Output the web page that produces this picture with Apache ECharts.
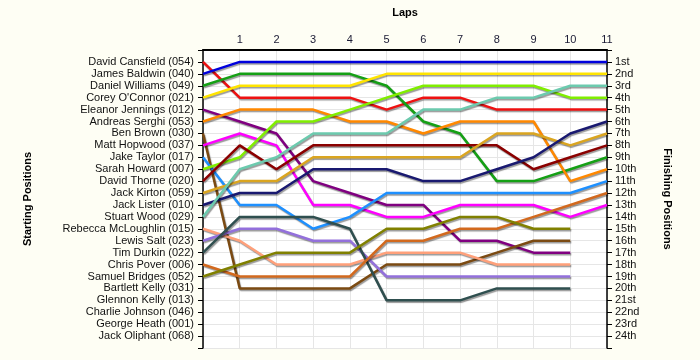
<!DOCTYPE html>
<html>
<head>
<meta charset="utf-8">
<script src="https://cdn.jsdelivr.net/npm/echarts@6/dist/echarts.min.js"></script>
<style>
html,body{margin:0;padding:0;background:#FEFEF4;}
#chart{width:700px;height:360px;}
</style>
</head>
<body>
<div id="chart"></div>
<script>
// Starting order (position 1..24)
const drivers = [
  "David Cansfield (054)", "James Baldwin (040)", "Daniel Williams (049)", "Corey O'Connor (021)",
  "Eleanor Jennings (012)", "Andreas Serghi (053)", "Ben Brown (030)", "Matt Hopwood (037)",
  "Jake Taylor (017)", "Sarah Howard (007)", "David Thorne (020)", "Jack Kirton (059)",
  "Jack Lister (010)", "Stuart Wood (029)", "Rebecca McLoughlin (015)", "Lewis Salt (023)",
  "Tim Durkin (022)", "Chris Pover (006)", "Samuel Bridges (052)", "Bartlett Kelly (031)",
  "Glennon Kelly (013)", "Charlie Johnson (046)", "George Heath (001)", "Jack Oliphant (068)"
];
const finishLabels = [
  "1st","2nd","3rd","4th","5th","6th","7th","8th","9th","10th","11th","12th",
  "13th","14th","15th","16th","17th","18th","19th","20th","21st","22nd","23rd","24th"
];
const lapTicks = [1,2,3,4,5,6,7,8,9,10,11];

// Position at lap 0..n for each driver
const davidCansfield   = [1,4,4,4,4,5,4,4,5,5,5,5];
const jamesBaldwin     = [2,1,1,1,1,1,1,1,1,1,1,1];
const danielWilliams   = [3,2,2,2,2,3,6,7,11,11,10,9];
const coreyOConnor     = [4,3,3,3,3,2,2,2,2,2,2,2];
const eleanorJennings  = [5,6,7,11,12,13,13,16,16,17,17];
const andreasSerghi    = [6,5,5,5,6,6,7,6,6,6,11,10];
const benBrown         = [7,20,20,20,20,18,18,18,17,16,16];
const mattHopwood      = [8,7,8,13,13,14,14,13,13,13,14,13];
const jakeTaylor       = [9,13,13,15,14,12,12,12,12,12,12,11];
const sarahHoward      = [10,9,6,6,5,4,3,3,3,3,4,4];
const davidThorne      = [11,8,10,8,8,8,8,8,8,10,9,8];
const jackKirton       = [12,11,11,9,9,9,9,9,7,7,8,7];
const jackLister       = [13,12,12,10,10,10,11,11,10,9,7,6];
const stuartWood       = [14,10,9,7,7,7,5,5,4,4,3,3];
const rebeccaMcLoughlin= [15,16,18,18,18,17,17,17,18,18,18];
const lewisSalt        = [16,15,15,16,16,19,19,19,19,19,19];
const timDurkin        = [17,14,14,14,15,21,21,21,20,20,20];
const chrisPover       = [18,19,19,19,19,16,16,15,15,14,13,12];
const samuelBridges    = [19,18,17,17,17,15,15,14,14,15,15];

const seriesDefs = [
  [drivers[0], davidCansfield, '#EE1111'],
  [drivers[1], jamesBaldwin, '#0000DD'],
  [drivers[2], danielWilliams, '#15A015'],
  [drivers[3], coreyOConnor, '#FFE400'],
  [drivers[4], eleanorJennings, '#800080'],
  [drivers[5], andreasSerghi, '#FF8800'],
  [drivers[6], benBrown, '#7B4A12'],
  [drivers[7], mattHopwood, '#FF00FF'],
  [drivers[8], jakeTaylor, '#1E90FF'],
  [drivers[9], sarahHoward, '#80EE00'],
  [drivers[10], davidThorne, '#8B0000'],
  [drivers[11], jackKirton, '#DAA520'],
  [drivers[12], jackLister, '#191970'],
  [drivers[13], stuartWood, '#6CCAAE'],
  [drivers[14], rebeccaMcLoughlin, '#FFA07A'],
  [drivers[15], lewisSalt, '#9370DB'],
  [drivers[16], timDurkin, '#2F4F4F'],
  [drivers[17], chrisPover, '#D2691E'],
  [drivers[18], samuelBridges, '#808000']
];

const chart = echarts.init(document.getElementById('chart'), null, {renderer:'canvas'});
const font = 'Liberation Sans, Arial, sans-serif';
const yBase = {
  type: 'value', inverse: true, min: 0, max: 25, interval: 1,
  nameLocation: 'middle',
  nameTextStyle: {fontFamily: font, fontSize: 11, fontWeight: 'bold', color: '#000'},
  axisLine: {show: true, lineStyle: {color: '#000', width: 1.5}},
  axisTick: {show: true, length: 5, lineStyle: {color: '#000'}},
  splitLine: {show: true, lineStyle: {color: '#E6E6E6', width: 1}}
};
chart.setOption({
  animation: false,
  backgroundColor: '#FEFEF4',
  grid: {left: 203, right: 93, top: 50, bottom: 12, show: true, backgroundColor: '#FFFFFF', borderWidth: 0},
  xAxis: {
    type: 'value', position: 'top', min: 0, max: 11, interval: 1,
    name: 'Laps', nameLocation: 'middle', nameGap: 32,
    nameTextStyle: {fontFamily: font, fontSize: 11, fontWeight: 'bold', color: '#000'},
    axisLine: {show: true, lineStyle: {color: '#000', width: 2}},
    axisTick: {show: false},
    axisLabel: {fontFamily: font, fontSize: 11, color: '#1a1a33', margin: 5,
      formatter: v => lapTicks.includes(v) ? String(v) : ''},
    splitLine: {show: true, lineStyle: {color: '#E6E6E6', width: 1}}
  },
  yAxis: [
    Object.assign({}, yBase, {
      position: 'left', name: 'Starting Positions', nameRotate: 90, nameGap: 170,
      axisLabel: {fontFamily: font, fontSize: 11, color: '#111', margin: 9,
        formatter: v => (v >= 1 && v <= 24) ? drivers[v-1] : ''}
    }),
    Object.assign({}, yBase, {
      position: 'right', name: 'Finishing Positions', nameRotate: -90, nameGap: 55,
      splitLine: {show: false},
      axisLabel: {fontFamily: font, fontSize: 11, color: '#111', margin: 8,
        formatter: v => (v >= 1 && v <= 24) ? finishLabels[v-1] : ''}
    })
  ],
  series: seriesDefs.map(([name, pos, color]) => ({
    name: name, type: 'line', yAxisIndex: 0, symbol: 'none',
    data: pos.map((p, i) => [i, p]),
    lineStyle: {color: color, width: 2.5, shadowColor: 'rgba(0,0,0,0.4)', shadowOffsetX: 1, shadowOffsetY: 1.5, shadowBlur: 1},
    itemStyle: {color: color}
  }))
});
</script>
</body>
</html>
